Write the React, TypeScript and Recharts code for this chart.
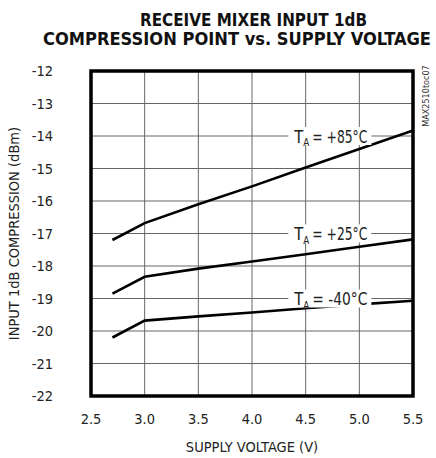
import React from "react";
import {
  LineChart,
  Line,
  XAxis,
  YAxis,
  CartesianGrid,
  ReferenceArea,
  ReferenceDot,
} from "recharts";

// supply voltage (V)
const voltage = [2.7, 3.0, 3.5, 4.0, 4.5, 5.0, 5.5];
// input 1dB compression point (dBm) per temperature
const t85 = [-17.2, -16.68, -16.1, -15.55, -14.97, -14.4, -13.83];
const t25 = [-18.85, -18.33, -18.08, -17.86, -17.64, -17.41, -17.18];
const tm40 = [-20.2, -19.68, -19.55, -19.43, -19.3, -19.18, -19.07];

const xTicks = [2.5, 3.0, 3.5, 4.0, 4.5, 5.0, 5.5];
const yTicks = [-22, -21, -20, -19, -18, -17, -16, -15, -14, -13, -12];

// curve labels sit on a grid line, centred at x
const curveLabels = [
  { x: 4.73, y: -14, t: "+85°C" },
  { x: 4.73, y: -17, t: "+25°C" },
  { x: 4.73, y: -19, t: "-40°C" },
];

const data = voltage.map((v, i) => ({ v, t85: t85[i], t25: t25[i], tm40: tm40[i] }));

const FONT = "'DejaVu Sans Condensed', 'Liberation Sans Narrow', 'Arial Narrow', sans-serif";

const TempLabel = (props: any) => {
  const { cx, cy, t } = props;
  return (
    <g fontFamily={FONT} fill="#222">
      <rect x={cx - 42} y={cy - 9} width={83} height={18} fill="#fff" />
      <text x={cx - 36} y={cy + 6.5} fontSize={17} textLength={9} lengthAdjust="spacingAndGlyphs">T</text>
      <text x={cx - 27} y={cy + 10} fontSize={11} textLength={6} lengthAdjust="spacingAndGlyphs">A</text>
      <text x={cx - 18} y={cy + 6.5} fontSize={17} textLength={55} lengthAdjust="spacingAndGlyphs">{`= ${t}`}</text>
    </g>
  );
};

export default function App() {
  return (
    <div style={{ position: "absolute", left: 0, top: 0, width: 436, height: 458, background: "#fff", fontFamily: FONT }}>
      <LineChart
        width={436}
        height={458}
        data={data}
        margin={{ top: 71, right: 23, left: 0, bottom: 0 }}
      >
        <CartesianGrid stroke="#666" strokeWidth={1} />
        <XAxis
          dataKey="v"
          type="number"
          domain={[2.5, 5.5]}
          ticks={xTicks}
          tickFormatter={(v: number) => v.toFixed(1)}
          height={62}
          axisLine={false}
          tickLine={false}
          tick={{ fontFamily: FONT, fontSize: 14.5, fill: "#222" }}
          tickMargin={12}
          label={{ value: "SUPPLY VOLTAGE (V)", position: "insideBottom", offset: 6, fontFamily: FONT, fontSize: 14.5, fill: "#222" }}
        />
        <YAxis
          type="number"
          domain={[-22, -12]}
          ticks={yTicks}
          width={91}
          axisLine={false}
          tickLine={false}
          interval={0}
          tick={{ fontFamily: FONT, fontSize: 14.5, fill: "#222" }}
          tickMargin={32}
          label={{ value: "INPUT 1dB COMPRESSION (dBm)", angle: -90, position: "insideLeft", offset: 14, style: { textAnchor: "middle" }, fontFamily: FONT, fontSize: 14.5, fill: "#222" }}
        />
        {curveLabels.map((l) => (
          <ReferenceDot key={l.t} x={l.x} y={l.y} r={0} shape={(p: any) => <TempLabel {...p} t={l.t} />} />
        ))}
        <Line dataKey="t85" stroke="#000" strokeWidth={2.6} dot={false} isAnimationActive={false} />
        <Line dataKey="t25" stroke="#000" strokeWidth={2.6} dot={false} isAnimationActive={false} />
        <Line dataKey="tm40" stroke="#000" strokeWidth={2.6} dot={false} isAnimationActive={false} />
        <ReferenceArea x1={2.5} x2={5.5} y1={-22} y2={-12} fill="none" stroke="#000" strokeWidth={3.5} ifOverflow="visible" />
      </LineChart>
      <svg width={436} height={458} style={{ position: "absolute", left: 0, top: 0, pointerEvents: "none" }}>
        <text x={140} y={26} textLength={227} lengthAdjust="spacingAndGlyphs" fontFamily={FONT} fontWeight="bold" fontSize={18} fill="#111">
          RECEIVE MIXER INPUT 1dB
        </text>
        <text x={43} y={45} textLength={388} lengthAdjust="spacingAndGlyphs" fontFamily={FONT} fontWeight="bold" fontSize={18} fill="#111">
          COMPRESSION POINT vs. SUPPLY VOLTAGE
        </text>
        <text x={0} y={0} transform="translate(429,96) rotate(-90)" textAnchor="middle" fontFamily={FONT} fontSize={9} fill="#333">
          MAX2510toc07
        </text>
      </svg>
    </div>
  );
}
